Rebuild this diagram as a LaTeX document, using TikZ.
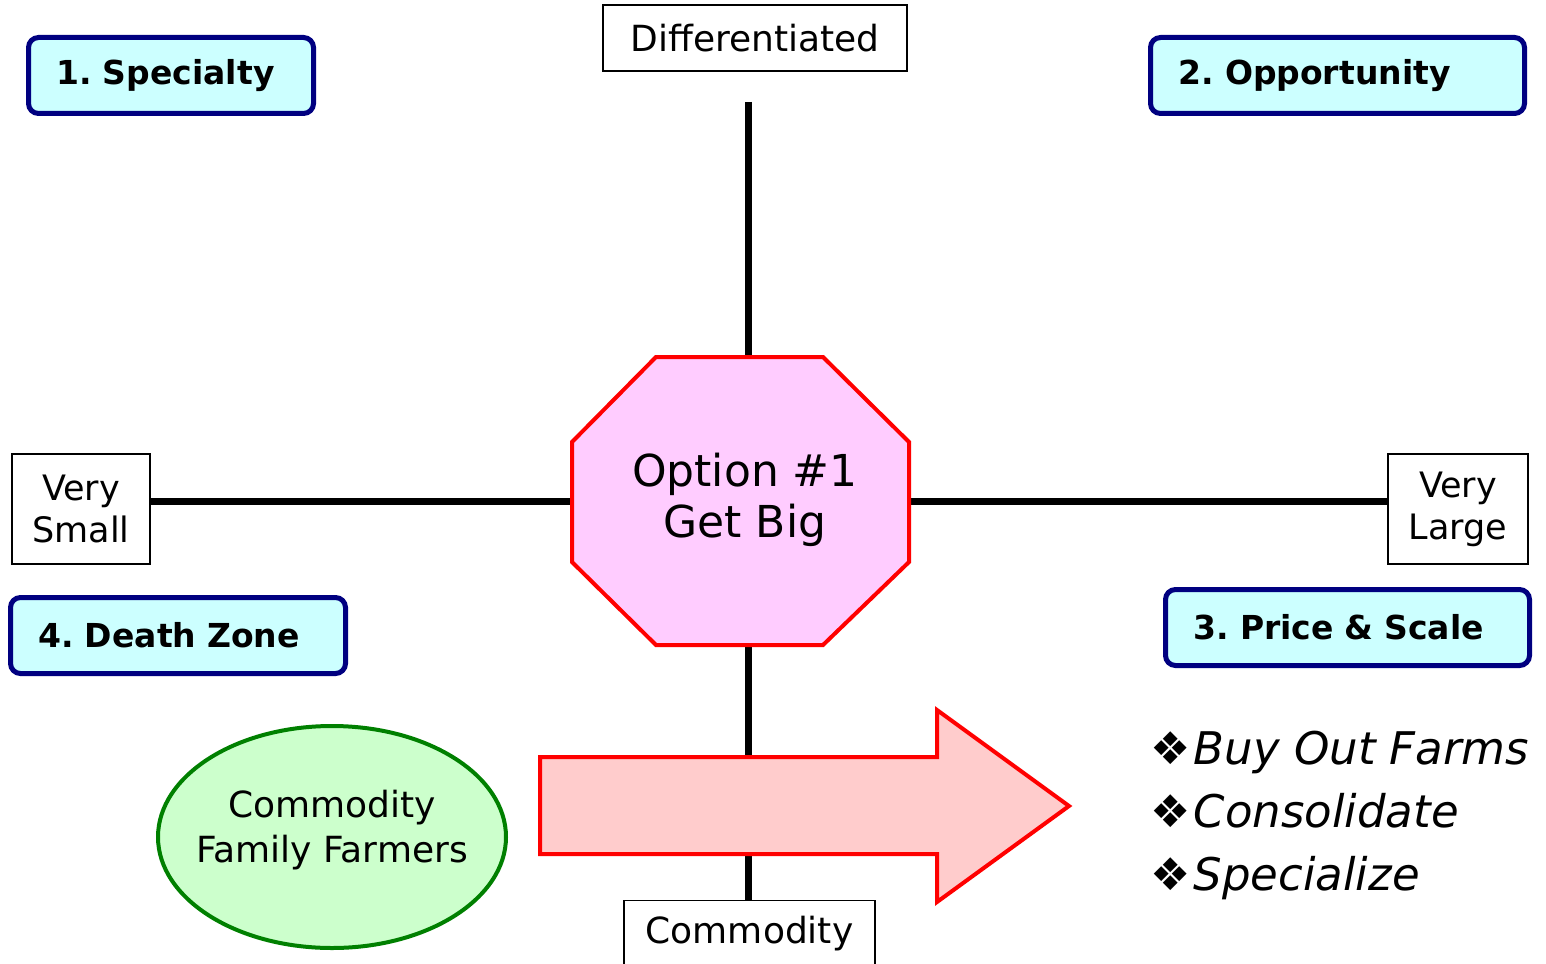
\documentclass[tikz,border=0pt]{standalone}
\usepackage{fontspec}
\setmainfont{DejaVu Sans}
\usepackage{xcolor}
\usetikzlibrary{calc,shapes.geometric,positioning}
\frenchspacing

\begin{document}
\begin{tikzpicture}[x=0.5pt, y=-0.5pt,
  zone/.style={draw=zonenavy, line width=2.5pt, fill=zonecyan, rounded corners=5pt,
    anchor=north west, align=left, inner xsep=14pt, minimum height=38pt,
    font=\fontsize{16.5}{19}\selectfont\bfseries},
  axislabel/.style={draw=black, line width=0.75pt, fill=white, align=center, inner sep=0pt,
    font=\fontsize{17.5}{21}\selectfont},
  axisline/.style={line width=3.5pt}]

  % Define colors
  \definecolor{zonenavy}{RGB}{0,0,128}
  \definecolor{zonecyan}{RGB}{204,255,255}
  \definecolor{stopred}{RGB}{255,0,0}
  \definecolor{stoppink}{RGB}{255,204,255}
  \definecolor{pushpink}{RGB}{255,204,204}
  \definecolor{farmgreen}{RGB}{0,128,0}
  \definecolor{farmmint}{RGB}{204,255,204}

  \useasboundingbox (0,0) rectangle (1546,963);

  % Axis labels
  \node[axislabel, minimum width=152pt, minimum height=33pt, font=\fontsize{18}{21}\selectfont] (diff) at (755,38) {Differentiated};
  \node[axislabel, minimum width=69pt, minimum height=55pt] (vsmall) at (81,509) {Very\\Small};
  \node[axislabel, minimum width=70pt, minimum height=55pt] (vlarge) at (1458,509) {Very\\Large};
  \node[axislabel, anchor=north, minimum width=125.5pt, inner ysep=8pt,
    font=\fontsize{18}{21}\selectfont] (comm) at (749.5,899.5) {Commodity};

  % Axes
  \coordinate (hub) at (748,501);
  \coordinate (axtop) at (748,102);
  \draw[axisline] (axtop) -- (hub |- comm.north);
  \draw[axisline] (vsmall.east |- hub) -- (vlarge.west |- hub);

  % Quadrant names
  \node[zone, text width=114.5pt] (specialty) at (26,35) {1. Specialty};
  \node[zone, text width=159pt] (opportunity) at (1148,35) {2. Opportunity};
  \node[zone, text width=154pt] (pricescale) at (1163,587) {3. Price \& Scale};
  \node[zone, text width=139.5pt] (deathzone) at (8,595) {4. Death Zone};

  % Stop sign
  \draw[stopred, fill=stoppink, line width=2pt] (656,357) -- (823,357) -- (909,442) -- (909,562)
    -- (823,645) -- (656,645) -- (572,562) -- (572,442) -- cycle;
  \node[align=center, font=\fontsize{22}{25.5}\selectfont] (getbig) at (745,500) {Option \#1\\Get Big};

  % Big arrow
  \draw[stopred, fill=pushpink, line width=2pt] (540,757) -- (937,757) -- (937,710) -- (1069,806)
    -- (937,902) -- (937,854) -- (540,854) -- cycle;

  % Family farmers
  \node[ellipse, draw=farmgreen, fill=farmmint, line width=2pt, minimum width=174pt, minimum height=111pt,
    inner sep=0pt] (farmers) at (332,837) {};
  \node[align=center, font=\fontsize{18}{22.5}\selectfont] (farmerstext) at ($(farmers.center)+(0,-7)$)
    {Commodity\\Family Farmers};

  % Tactics
  \node[anchor=west, align=left, inner sep=0pt, font=\fontsize{22.5}{31.5}\selectfont\itshape] (tactics) at (1150,815)
    {\textup{❖}\kern1.5pt Buy Out Farms\\\textup{❖}\kern1.5pt Consolidate\\\textup{❖}\kern1.5pt Specialize};

\end{tikzpicture}
\end{document}
